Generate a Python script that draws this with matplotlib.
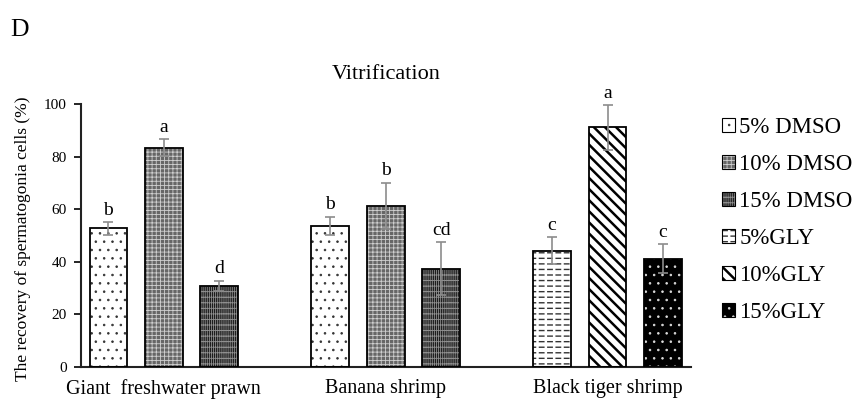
import matplotlib
matplotlib.use("Agg")
import matplotlib.pyplot as plt
import numpy as np
from matplotlib.patches import Rectangle
from matplotlib.legend_handler import HandlerBase

plt.rcParams['font.family'] = ['Liberation Serif', 'DejaVu Serif']
plt.rcParams['hatch.linewidth'] = 0.6

# data
groups = ['Giant  freshwater prawn', 'Banana shrimp', 'Black tiger shrimp']
series = ['5% DMSO', '10% DMSO', '15% DMSO', '5%GLY', '10%GLY', '15%GLY']
# three bars per group: first two groups use DMSO, last group uses GLY
bar_series = [[0, 1, 2], [0, 1, 2], [3, 4, 5]]
values = [[52.7, 83.4, 30.8], [53.7, 61.2, 37.4], [44.2, 91.1, 41.2]]
errors = [[2.4, 3.3, 2.0], [3.4, 8.9, 10.1], [5.2, 8.5, 5.4]]
letters = [['b', 'a', 'd'], ['b', 'b', 'cd'], ['c', 'a', 'c']]

# fill style per series: face, hatch, hatch colour, hatch width,
# optional white overlay hatch (breaks lines into dashes)
styles = [
    dict(face='white', hatch='..', hc='#333333', lw=0.6),
    dict(face='#666666', hatch='++++', hc='#cfcfcf', lw=0.6),
    dict(face='#1c1c1c', hatch='|||||+++', hc='#8f8f8f', lw=0.6),
    dict(face='white', hatch='---', hc='#333333', lw=1.0, cut='||'),
    dict(face='white', hatch='\\\\\\', hc='black', lw=1.8),
    dict(face='black', hatch='..', hc='#dddddd', lw=0.6),
]


def fill_patches(st, make):
    out = []
    with plt.rc_context({'hatch.linewidth': st['lw']}):
        out.append(make(facecolor=st['face'], edgecolor=st['hc'],
                        hatch=st['hatch'], linewidth=0))
    if 'cut' in st:
        with plt.rc_context({'hatch.linewidth': 1.8}):
            out.append(make(fill=False, edgecolor='white',
                            hatch=st['cut'], linewidth=0))
    return out


class StyleKey:
    def __init__(self, st):
        self.st = st


class StyleHandler(HandlerBase):
    def create_artists(self, legend, orig_handle, xdescent, ydescent,
                       width, height, fontsize, trans):
        def make(**kw):
            return Rectangle((-xdescent, -ydescent), width, height,
                             transform=trans, **kw)
        arts = fill_patches(orig_handle.st, make)
        arts.append(make(fill=False, edgecolor='black', linewidth=0.8))
        return arts


fig = plt.figure(figsize=(8.62, 4.01), dpi=100)
ax = fig.add_axes([0.0936, 0.0848, 0.7077, 0.6558])

offset = 0.25
width = 0.17
for g in range(len(groups)):
    for k in range(3):
        x = g + (k - 1) * offset
        h = values[g][k]
        st = styles[bar_series[g][k]]
        fill_patches(st, lambda **kw: ax.bar(x, h, width, zorder=2, **kw))
        ax.bar(x, h, width, fill=False, edgecolor='black', linewidth=1.3,
               zorder=3)
        ax.errorbar(x, h, yerr=errors[g][k], color='#8c8c8c',
                    capsize=3.5, elinewidth=1.2, capthick=1.2, zorder=4)
        ax.text(x, h + errors[g][k] + 1.3, letters[g][k],
                ha='center', va='bottom', fontsize=14)

ax.set_xlim(-0.375, 2.375)
ax.set_ylim(0, 100)
ax.set_yticks(np.arange(0, 101, 20))
ax.set_xticks(range(len(groups)))
ax.set_xticklabels(groups, fontsize=14.5)
ax.tick_params(axis='x', length=0, pad=9)
ax.tick_params(axis='y', labelsize=11, length=5, width=1.2, direction='out',
               pad=5)
for s in ['top', 'right']:
    ax.spines[s].set_visible(False)
for s in ['left', 'bottom']:
    ax.spines[s].set_linewidth(1.5)
    ax.spines[s].set_color('#222222')

ax.set_ylabel('The recovery of spermatogonia cells (%)', fontsize=12.5)
ax.yaxis.set_label_coords(-0.081, 0.487)
ax.set_title('Vitrification', fontsize=16, pad=18)
fig.text(0.012, 0.91, 'D', fontsize=18.5)

keys = [StyleKey(st) for st in styles]
leg = fig.legend(keys, series, loc='upper left',
                 bbox_to_anchor=(0.814, 0.76), frameon=False,
                 fontsize=16.5, handlelength=0.55, handleheight=0.55,
                 handletextpad=0.2, labelspacing=0.7,
                 handler_map={StyleKey: StyleHandler()})

fig.savefig('out.png', dpi=100)
